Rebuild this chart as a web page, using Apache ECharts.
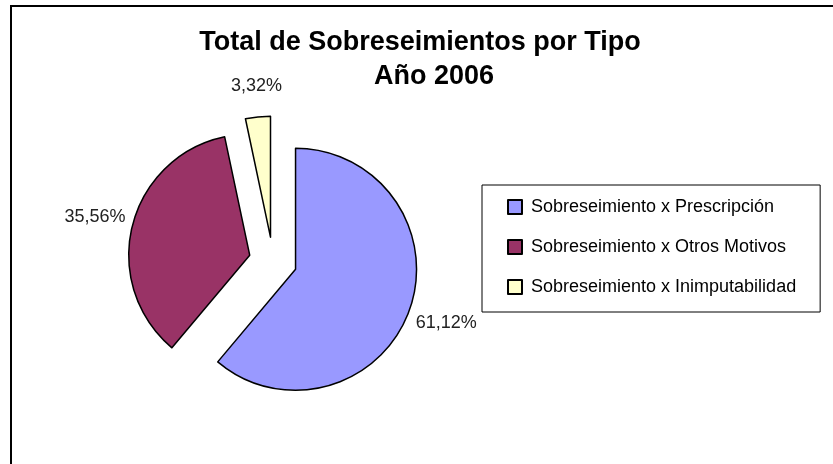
<!DOCTYPE html>
<html>
<head>
<meta charset="utf-8">
<script src="https://cdn.jsdelivr.net/npm/echarts@6/dist/echarts.min.js"></script>
<style>
  html, body { margin: 0; padding: 0; background: #fff; }
  #chart { width: 833px; height: 464px; }
</style>
</head>
<body>
<div id="chart"></div>
<script>
// datos
const categorias = [
  'Sobreseimiento x Prescripción',
  'Sobreseimiento x Otros Motivos',
  'Sobreseimiento x Inimputabilidad'
]
const porcentajes = [61.12, 35.56, 3.32]
const colores = ['#9999FF', '#993366', '#FFFFCC']
// pequeño ajuste de las etiquetas (estilo Excel)
const labelNudge = [[-6, 10], [6, -7], [30, -23]]

const fuente = "'Liberation Sans', Arial, sans-serif"

const chart = echarts.init(document.getElementById('chart'))

chart.setOption({
  animation: false,
  backgroundColor: '#fff',
  graphic: [{
    type: 'rect',
    shape: { x: 11, y: 6, width: 900, height: 600 },
    style: { fill: 'none', stroke: '#000', lineWidth: 2 },
    silent: true
  }],
  title: [{
    text: 'Total de Sobreseimientos por Tipo',
    left: 415,
    top: 24,
    textAlign: 'center',
    textStyle: { fontFamily: fuente, fontWeight: 'bold', fontSize: 27, color: '#000' }
  }, {
    text: 'Año 2006',
    left: 429,
    top: 58,
    textAlign: 'center',
    textStyle: { fontFamily: fuente, fontWeight: 'bold', fontSize: 27, color: '#000' }
  }],
  legend: {
    orient: 'vertical',
    left: 482,
    top: 185,
    padding: [12, 24, 15, 25],
    itemGap: 20,
    itemWidth: 14,
    itemHeight: 14,
    icon: 'rect',
    borderColor: '#000',
    borderWidth: 1,
    selectedMode: false,
    itemStyle: { borderColor: '#000', borderWidth: 2 },
    textStyle: { fontFamily: fuente, fontSize: 18, lineHeight: 20, color: '#000', padding: [0, 0, 0, 4] },
    data: categorias
  },
  series: [{
    type: 'pie',
    center: [273, 261],
    radius: 121,
    startAngle: 90,
    clockwise: true,
    selectedMode: 'multiple',
    selectedOffset: 24,
    avoidLabelOverlap: false,
    itemStyle: { borderColor: '#000', borderWidth: 1.5 },
    emphasis: { disabled: true },
    select: { itemStyle: { borderColor: '#000', borderWidth: 1.5 } },
    label: {
      show: true,
      position: 'outside',
      fontFamily: fuente,
      fontSize: 18,
      color: '#222',
      formatter: p => p.value.toFixed(2).replace('.', ',') + '%'
    },
    labelLine: { show: false, length: 8, length2: 0 },
    labelLayout: p => ({ dx: labelNudge[p.dataIndex][0], dy: labelNudge[p.dataIndex][1] }),
    data: categorias.map((c, i) => ({
      name: c,
      value: porcentajes[i],
      selected: true,
      itemStyle: { color: colores[i] }
    }))
  }]
})
</script>
</body>
</html>
